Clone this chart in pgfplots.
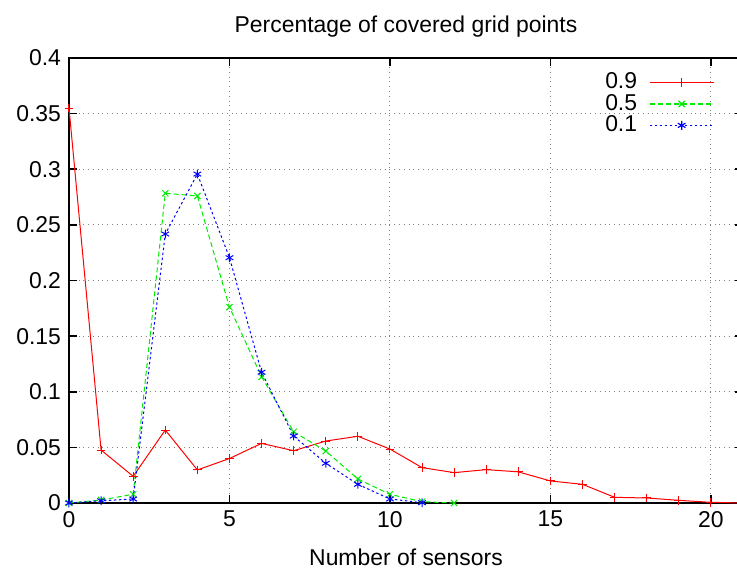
\documentclass[border=0pt]{standalone}
\usepackage{fontspec}
\setmainfont{Liberation Sans}
\usepackage{pgfplots}
\pgfplotsset{compat=1.18}
\definecolor{gpgreen}{RGB}{0,235,0}
\begin{document}
\fontsize{11.5}{13.8}\selectfont
\begin{tikzpicture}
\begin{axis}[
  scale only axis,
  width=337bp, height=222.5bp,
  xmin=0, xmax=21, ymin=0, ymax=0.4,
  xtick={0,5,10,15,20},
  ytick={0,0.05,0.1,0.15,0.2,0.25,0.3,0.35,0.4},
  /pgf/number format/assume math mode=true,
  yticklabel style={/pgf/number format/fixed, font=\fontsize{11.5}{13.8}\selectfont},
  xticklabel style={font=\fontsize{11.5}{13.8}\selectfont},
  tick align=inside,
  major tick length=4bp,
  every tick/.style={black, line width=0.8bp},
  axis line style={line width=1bp},
  grid=major,
  major grid style={gray, dotted, line width=0.5bp},
  title={Percentage of covered grid points},
  title style={at={(0.5,1)}, anchor=base, yshift=7bp, font=\fontsize{11.5}{13.8}\selectfont},
  xlabel={Number of sensors},
  xlabel style={at={(axis description cs:0.5,0)}, anchor=base, yshift=-31bp, font=\fontsize{11.5}{13.8}\selectfont},
  legend style={draw=none, fill=none, inner sep=0pt, at={(rel axis cs:0.958,0.9765)}, anchor=north east,
    font=\fontsize{11.5}{13.8}\selectfont, row sep=-3bp, column sep=4bp},
  legend cell align=right,
  legend plot pos=right,
  legend image code/.code={\draw[mark repeat=2,mark phase=2,line width=0.6bp,#1] plot coordinates {(0bp,0bp)(16bp,0bp)(32bp,0bp)};},
  clip=true,
]
\addplot[draw=red, color=red, line width=0.5bp, mark=+, mark size=2.2bp, mark options={solid}] coordinates {
(0,0.355) (1,0.0476) (2,0.024) (3,0.0656) (4,0.0297) (5,0.040) (6,0.0536) (7,0.047)
(8,0.0557) (9,0.060) (10,0.0485) (11,0.0318) (12,0.0273) (13,0.030) (14,0.028)
(15,0.0198) (16,0.0168) (17,0.0051) (18,0.0045) (19,0.0024) (20,0.0006) (21,0.0)
};
\addlegendentry{0.9}
\addplot[draw=gpgreen, color=gpgreen, line width=0.5bp, dash pattern=on 2.5bp off 1.5bp, mark=x, mark size=2.2bp, mark options={solid}] coordinates {
(0,0) (1,0.0027) (2,0.0078) (3,0.2784) (4,0.276) (5,0.176) (6,0.1135) (7,0.064)
(8,0.0467) (9,0.0216) (10,0.0078) (11,0.0012) (12,0.0)
};
\addlegendentry{0.5}
\addplot[draw=blue, color=blue, line width=0.5bp, dash pattern=on 1.2bp off 1.3bp, mark=asterisk, mark size=2.2bp, mark options={solid}] coordinates {
(0,0) (1,0.002) (2,0.0036) (3,0.2418) (4,0.2957) (5,0.2205) (6,0.1175) (7,0.0602)
(8,0.0357) (9,0.0168) (10,0.0036) (11,0.0003)
};
\addlegendentry{0.1}
\end{axis}
\pgfresetboundingbox
\path[use as bounding box] (-34.5bp,-34.5bp) rectangle (334bp,251.5bp);
\end{tikzpicture}
\end{document}
